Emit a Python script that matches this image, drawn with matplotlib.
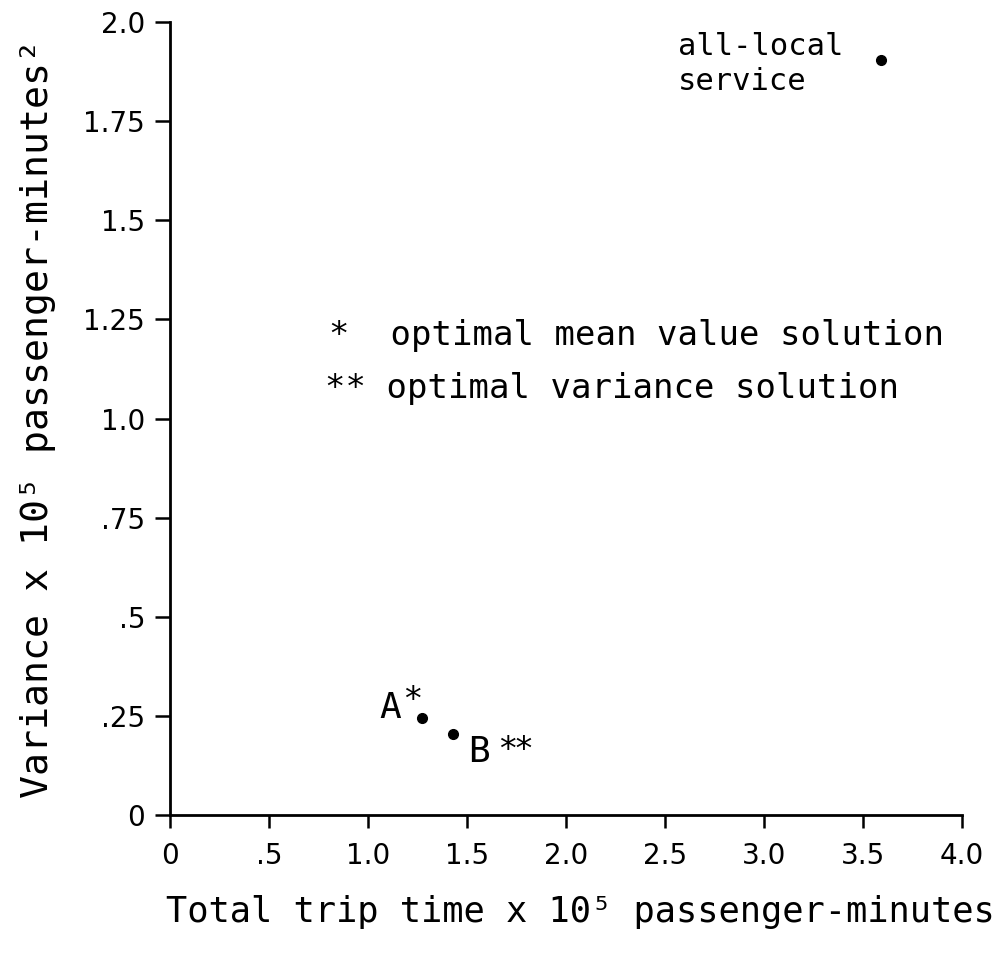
import matplotlib.pyplot as plt

# data
labels = ['A', 'B', 'all-local']
trip_time = [1.27, 1.43, 3.59]      # x 10^5 passenger-minutes
variance = [0.245, 0.205, 1.905]    # x 10^5 passenger-minutes^2

x_ticks = [0, 0.5, 1.0, 1.5, 2.0, 2.5, 3.0, 3.5, 4.0]
x_ticklabels = ['0', '.5', '1.0', '1.5', '2.0', '2.5', '3.0', '3.5', '4.0']
y_ticks = [0, 0.25, 0.5, 0.75, 1.0, 1.25, 1.5, 1.75, 2.0]
y_ticklabels = ['0', '.25', '.5', '.75', '1.0', '1.25', '1.5', '1.75', '2.0']

mono = ['DejaVu Sans Mono', 'DejaVu Sans']

fig = plt.figure(figsize=(10.01, 9.6), dpi=100)
ax = fig.add_axes([0.170, 0.151, 0.791, 0.826])

ax.plot(trip_time, variance, 'o', color='black', markersize=7, clip_on=False)

ax.set_xlim(0, 4.0)
ax.set_ylim(0, 2.0)
ax.spines['top'].set_visible(False)
ax.spines['right'].set_visible(False)
for s in ['left', 'bottom']:
    ax.spines[s].set_linewidth(2)

ax.set_xticks(x_ticks)
ax.set_xticklabels(x_ticklabels)
ax.set_yticks(y_ticks)
ax.set_yticklabels(y_ticklabels)
ax.tick_params(axis='both', direction='out', width=1.8, labelsize=20)
ax.tick_params(axis='x', length=9.5, pad=10)
ax.tick_params(axis='y', length=11, pad=7)

ax.set_xlabel('Total trip time x 10\u2075 passenger-minutes', fontsize=25.5,
              family=mono, va='center')
ax.xaxis.set_label_coords(0.518, -0.122)
ax.set_ylabel('Variance x 10\u2075 passenger-minutes\u00b2', fontsize=27.5,
              family=mono, va='center')
ax.yaxis.set_label_coords(-0.167, 0.5)

# point labels
ax.text(1.11, 0.27, 'A', fontsize=26, family=mono, ha='center', va='center')
ax.text(1.225, 0.266, '*', fontsize=24, ha='center', va='baseline')
ax.text(1.561, 0.159, 'B', fontsize=26, family=mono, ha='center', va='center')
ax.text(1.747, 0.14, '**', fontsize=24, ha='center', va='baseline')
ax.text(2.565, 1.895, 'all-local\nservice', fontsize=22, family=mono,
        ha='left', va='center', linespacing=1.25)

# key
ax.text(0.80, 1.21, '*  optimal mean value solution', fontsize=24.5,
        family=mono, va='center')
ax.text(0.78, 1.077, '** optimal variance solution', fontsize=24.5,
        family=mono, va='center')

plt.savefig('out.png', dpi=100)
